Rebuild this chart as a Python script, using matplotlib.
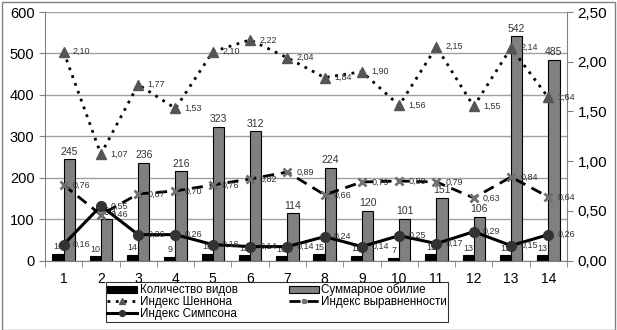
import numpy as np
import matplotlib
matplotlib.use("Agg")
import matplotlib.pyplot as plt
from matplotlib.patches import Rectangle
from matplotlib.ticker import FuncFormatter

plt.rcParams['font.family'] = ['Liberation Sans', 'DejaVu Sans']

sites = list(range(1, 15))
species = [16, 10, 14, 9, 16, 13, 10, 15, 11, 7, 15, 13, 13, 13]
abundance = [245, 100, 236, 216, 323, 312, 114, 224, 120, 101, 151, 106, 542, 485]
shannon = [2.10, 1.07, 1.77, 1.53, 2.10, 2.22, 2.04, 1.84, 1.90, 1.56, 2.15, 1.55, 2.14, 1.64]
evenness = [0.76, 0.46, 0.67, 0.70, 0.76, 0.82, 0.89, 0.66, 0.79, 0.80, 0.79, 0.63, 0.84, 0.64]
simpson = [0.16, 0.55, 0.26, 0.26, 0.16, 0.14, 0.14, 0.24, 0.14, 0.25, 0.17, 0.29, 0.15, 0.26]

fig = plt.figure(figsize=(6.17, 3.3), dpi=100)
fig.patches.append(Rectangle((0.003, 0.0), 0.994, 0.994, transform=fig.transFigure,
                             fill=False, edgecolor='#808080', lw=1))
ax = fig.add_axes([0.0729, 0.2106, 0.846, 0.753])
ax2 = ax.twinx()

x = np.array(sites)
w = 0.3
lab = dict(fontsize=6.5, color='#333333')

b1 = ax.bar(x - w / 2, species, w, color='black', edgecolor='black', lw=0.8,
            label='Количество видов', zorder=2)
b2 = ax.bar(x + w / 2, abundance, w, color='#808080', edgecolor='black', lw=0.8,
            label='Суммарное обилие', zorder=2)
for xi, v in zip(x, species):
    ax.text(xi - w / 2, v + 6, str(v), ha='center', va='bottom', **lab)
for xi, v in zip(x, abundance):
    ax.text(xi + w / 2, v + 6, str(v), ha='center', va='bottom', fontsize=7.5, color='#333333')

ax.set_ylim(0, 600)
ax.set_xlim(0.5, 14.5)
ax.set_yticks(range(0, 601, 100))
ax.grid(axis='y', color='#a0a0a0', lw=1)
ax.set_axisbelow(True)
ax.set_xticks(x)
ax.set_xticks(np.arange(0.5, 15, 1), minor=True)
ax.tick_params(axis='x', which='major', length=0, pad=8, labelsize=10)
ax.tick_params(axis='x', which='minor', length=4, color='#808080')
ax.tick_params(axis='y', labelsize=10.5, length=4, color='#808080')
for s in ['top', 'right']:
    ax.spines[s].set_visible(False)
ax.spines['left'].set_color('#808080')
ax.spines['bottom'].set_color('#808080')

l1, = ax2.plot(x, shannon, ls=(0, (1, 2)), lw=2, color='black', marker='^', ms=7,
               mfc='#555555', mec='#555555', label='Индекс Шеннона', zorder=3)
l2, = ax2.plot(x, evenness, ls=(0, (4, 2.5)), lw=2, color='black', marker='x', ms=6,
               mew=2, mec='#707070', label='Индекс выравненности', zorder=3)
l3, = ax2.plot(x, simpson, ls='-', lw=2.2, color='black', marker='o', ms=7,
               mfc='#333333', mec='#333333', label='Индекс Симпсона', zorder=3)

fmt = lambda v: ('%.2f' % v).replace('.', ',')
for series in (shannon, evenness, simpson):
    for xi, v in zip(x, series):
        ax2.text(xi + 0.25, v, fmt(v), ha='left', va='center', **lab)

ax2.set_ylim(0, 2.5)
ax2.set_yticks(np.arange(0, 2.51, 0.5))
ax2.yaxis.set_major_formatter(FuncFormatter(lambda v, p: fmt(v)))
ax2.tick_params(axis='y', labelsize=11, length=4, color='#808080')
for s in ['top', 'left', 'bottom']:
    ax2.spines[s].set_visible(False)
ax2.spines['right'].set_color('#808080')

leg = fig.legend([b1, l1, l3, b2, l2],
                 ['Количество видов', 'Индекс Шеннона', 'Индекс Симпсона',
                  'Суммарное обилие', 'Индекс выравненности'],
                 ncol=2, loc='lower left', bbox_to_anchor=(0.162, 0.008),
                 fontsize=8.4, frameon=True, fancybox=False, edgecolor='black',
                 borderpad=0.1, labelspacing=0.0, handlelength=2.6,
                 handleheight=0.6, markerscale=0.6,
                 handletextpad=0.2, columnspacing=4.4)
leg.get_frame().set_linewidth(0.8)

fig.savefig('out.png', dpi=100)
